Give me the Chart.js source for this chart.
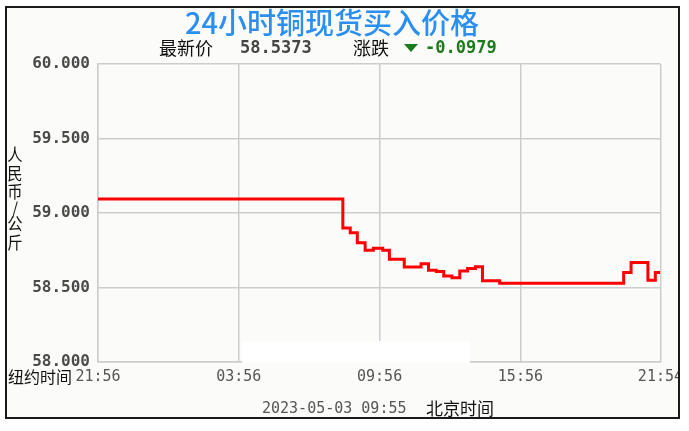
<!DOCTYPE html>
<html><head><meta charset="utf-8">
<script src="https://cdn.jsdelivr.net/npm/chart.js@4"></script>
<style>html,body{margin:0;padding:0;background:#fff;}canvas{display:block;}</style>
</head><body>
<canvas id="c" width="689" height="431"></canvas>
<script>
// ---- data ----
const stepMinutes = [0, 626, 645, 663, 683, 704, 728, 745, 783, 826, 845, 865, 884, 905, 925, 945, 965, 983, 1027, 1344, 1363, 1406, 1425, 1438];
const stepPrices  = [59.094, 58.90, 58.868, 58.80, 58.75, 58.763, 58.75, 58.69, 58.638, 58.66, 58.615, 58.608, 58.577, 58.566, 58.61, 58.628, 58.64, 58.546, 58.528, 58.60, 58.667, 58.548, 58.60, 58.60];
const xTickMinutes = [0, 360, 720, 1080, 1438];
const xTickLabels  = ['21:56', '03:56', '09:56', '15:56', '21:54'];
const yTickValues  = [58, 58.5, 59, 59.5, 60];
const yTickLabels  = ['58.000', '58.500', '59.000', '59.500', '60.000'];
const titleText = '24小时铜现货买入价格';
const latestLabel = '最新价';
const latestValue = '58.5373';
const changeLabel = '涨跌';
const changeValue = '-0.0979';
const yAxisTitleChars = ['人', '民', '币', '/', '公', '斤'];
const xAxisTitle = '纽约时间';
const footerTime = '2023-05-03 09:55';
const footerZone = '北京时间';

const CJK = '"Noto Sans CJK SC", "Noto Sans", sans-serif';
const MONO = '"DejaVu Sans Mono", "Liberation Mono", monospace';

const decor = {
  id: 'decor',
  beforeDraw(chart) {
    const ctx = chart.ctx;
    ctx.save();
    ctx.fillStyle = '#ffffff';
    ctx.fillRect(0, 0, chart.width, chart.height);
    ctx.fillStyle = '#fbfcf9';
    ctx.fillRect(6, 7, 673, 411);
    ctx.restore();
  },
  afterDraw(chart) {
    const ctx = chart.ctx;
    ctx.save();
    // erased watermark patch near the bottom of the plot
    ctx.fillStyle = '#ffffff';
    ctx.fillRect(242, 341, 228, 22);

    // title
    ctx.fillStyle = '#2b8ff0';
    ctx.font = '500 29px ' + CJK;
    ctx.textAlign = 'center';
    ctx.textBaseline = 'middle';
    ctx.fillText(titleText, 332, 23);

    // latest / change line
    ctx.textAlign = 'left';
    ctx.fillStyle = '#111';
    ctx.font = '18px ' + CJK;
    ctx.fillText(latestLabel, 159, 48);
    ctx.fillText(changeLabel, 353, 48);
    ctx.fillStyle = '#444';
    ctx.font = 'bold 17px ' + MONO;
    ctx.fillText(latestValue, 240, 49);
    ctx.fillStyle = '#1d7a1d';
    ctx.fillText(changeValue, 425, 49);
    ctx.beginPath();
    ctx.moveTo(404, 44); ctx.lineTo(418, 44); ctx.lineTo(411, 52); ctx.closePath();
    ctx.fill();

    // y axis title (stacked characters)
    ctx.fillStyle = '#111';
    ctx.font = '17px ' + CJK;
    ctx.textAlign = 'center';
    const ys = [155, 174, 192, 209, 224, 243];
    yAxisTitleChars.forEach((ch, i) => {
      ctx.save();
      ctx.translate(15, ys[i]);
      ctx.scale(0.9, 1);
      ctx.fillText(ch, 0, 0);
      ctx.restore();
    });

    // x axis title
    ctx.textAlign = 'left';
    ctx.font = '16px ' + CJK;
    ctx.fillText(xAxisTitle, 8, 377);

    // footer
    ctx.fillStyle = '#555';
    ctx.font = '15px ' + MONO;
    ctx.fillText(footerTime, 262, 409);
    ctx.fillStyle = '#111';
    ctx.font = '17px ' + CJK;
    ctx.fillText(footerZone, 426, 409);

    // outside frame + frame
    ctx.fillStyle = '#ffffff';
    ctx.fillRect(680, 0, 9, chart.height);
    ctx.fillRect(0, 419, chart.width, 12);
    ctx.strokeStyle = '#1a1a1a';
    ctx.lineWidth = 2;
    ctx.strokeRect(6, 7, 673, 411);
    ctx.restore();
  }
};

new Chart(document.getElementById('c').getContext('2d'), {
  type: 'line',
  data: {
    datasets: [{
      data: stepMinutes.map((m, i) => ({ x: m, y: stepPrices[i] })),
      borderColor: '#ff0000',
      borderWidth: 3,
      stepped: 'before',
      pointRadius: 0,
      fill: false
    }]
  },
  options: {
    responsive: false,
    animation: false,
    devicePixelRatio: 1,
    layout: { padding: { left: 0, right: 26, top: 64, bottom: 39 } },
    plugins: { legend: { display: false }, tooltip: { enabled: false } },
    scales: {
      x: {
        type: 'linear', min: 0, max: 1438,
        afterBuildTicks: s => { s.ticks = xTickMinutes.map(v => ({ value: v })); },
        afterFit: s => { s.height = 30; },
        grid: { color: '#cdcdcd', lineWidth: 1.5, drawTicks: false },
        border: { color: '#cdcdcd', width: 1.5 },
        ticks: {
          padding: 6, maxRotation: 0, autoSkip: false, color: '#555',
          font: { family: MONO, size: 15 },
          callback: v => xTickLabels[xTickMinutes.indexOf(v)]
        }
      },
      y: {
        min: 58, max: 60,
        afterBuildTicks: s => { s.ticks = yTickValues.map(v => ({ value: v })); },
        afterFit: s => { s.width = 98; },
        grid: { color: '#cdcdcd', lineWidth: 1.5, drawTicks: false },
        border: { color: '#cdcdcd', width: 1.5 },
        ticks: {
          padding: 8, autoSkip: false, color: '#4a4a4a',
          font: { family: MONO, size: 16, weight: 'bold' },
          callback: v => yTickLabels[yTickValues.indexOf(v)]
        }
      }
    }
  },
  plugins: [decor]
});
</script>
</body></html>
